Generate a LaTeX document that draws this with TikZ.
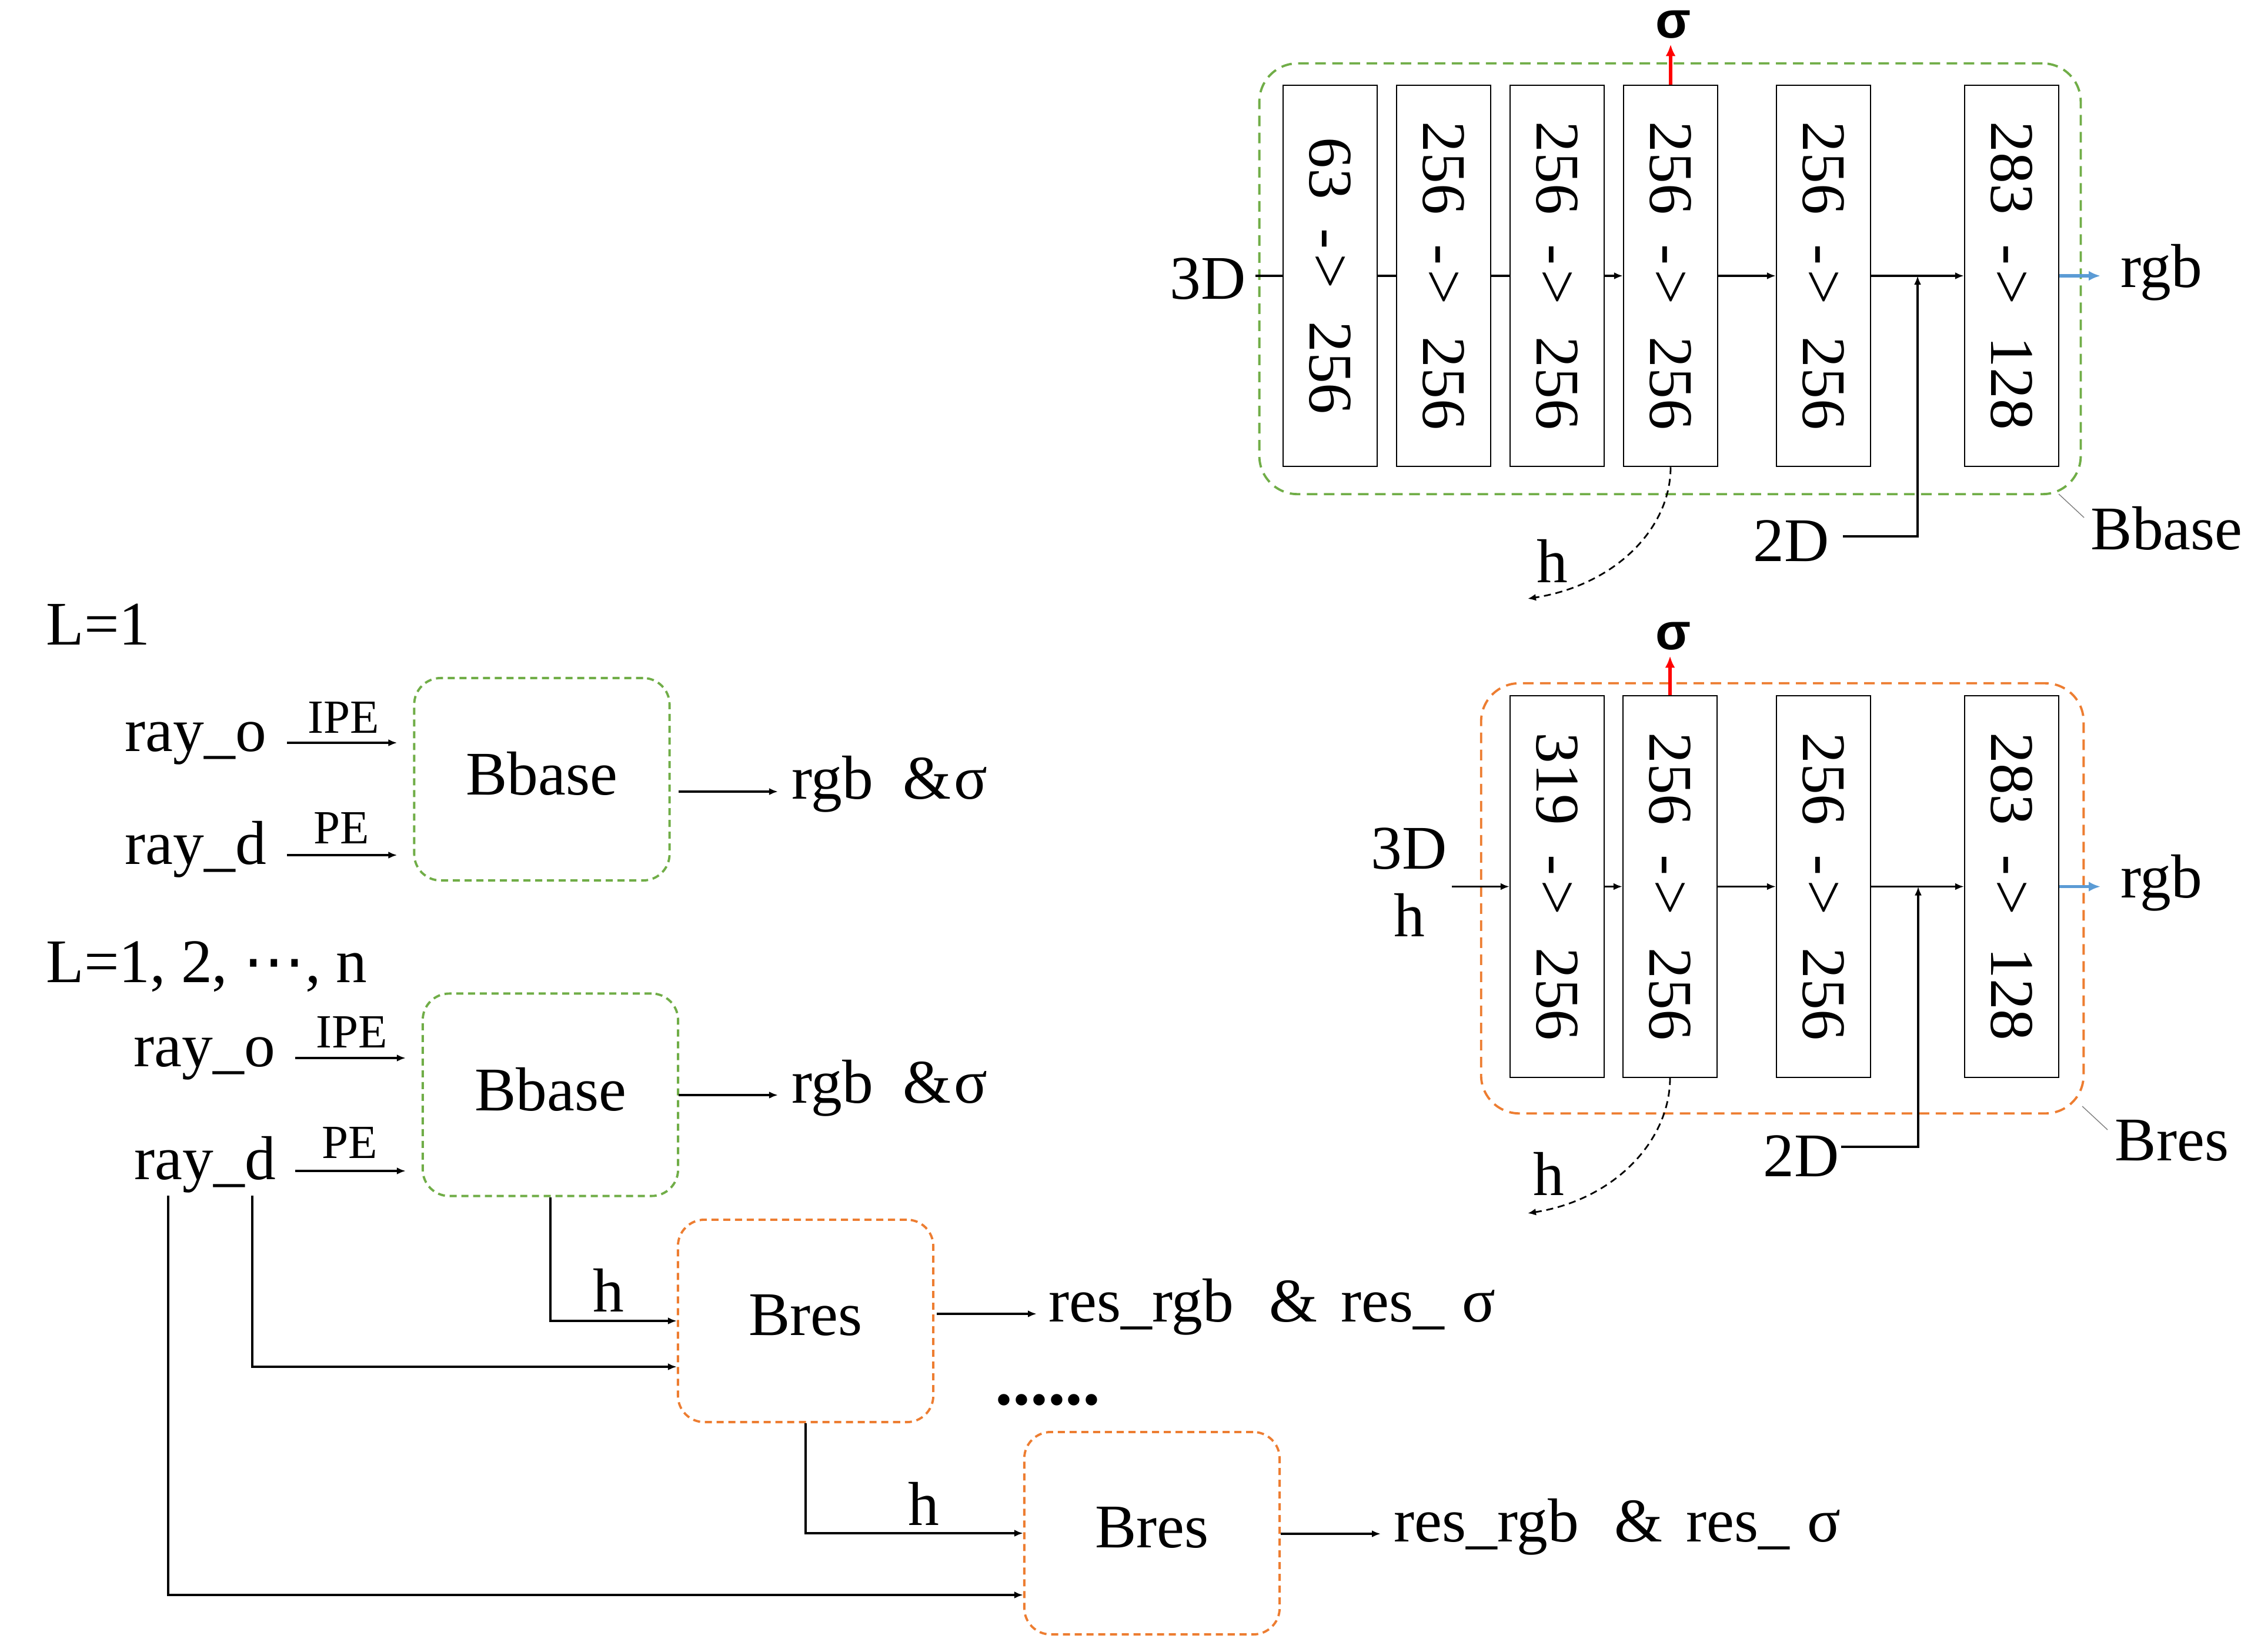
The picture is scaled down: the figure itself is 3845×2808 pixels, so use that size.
\documentclass[tikz,border=0pt]{standalone}
\usepackage{fontspec}
\setmainfont{Liberation Serif}
\newfontfamily\sansf{Liberation Sans}
\newfontfamily\djv{DejaVu Sans}
\usepackage{graphicx}
\usetikzlibrary{arrows.meta}
\definecolor{cgreen}{RGB}{112,173,71}
\definecolor{corange}{RGB}{237,125,49}
\definecolor{cblue}{RGB}{91,155,213}
\newcommand{\mainsz}{\fontsize{30}{34}\selectfont}
\newcommand{\ipesz}{\fontsize{23}{27}\selectfont}
\newcommand{\sigsz}{\sansf\bfseries\fontsize{25}{30}\selectfont}
\newcommand{\dotsz}{\fontsize{34}{40}\selectfont\bfseries}
\newcommand{\boxlab}[2]{\rotatebox{-90}{#1\hspace{0.5cm}-\hspace{0.08cm}>\hspace{0.55cm}#2}}
\newcommand{\rgbsig}{rgb\hspace{0.5cm}\&\hspace{0.05cm}σ}
\newcommand{\resout}{res\_rgb\hspace{0.6cm}\&\hspace{0.4cm}res\_\hspace{0.3cm}σ}
\begin{document}
\begin{tikzpicture}[x=0.01cm, y=-0.01cm, font=\mainsz, inner sep=0pt,
  lay/.style={draw, line width=0.6pt, minimum width=1.6cm, minimum height=6.48cm},
  pan/.style={line width=1.1pt, dash pattern=on 0.18cm off 0.11cm, rounded corners=0.65cm},
  blk/.style={line width=1.1pt, dash pattern=on 0.12cm off 0.08cm, rounded corners=0.45cm, minimum width=4.34cm, minimum height=3.44cm, text depth=0.2cm},
  con/.style={line width=0.9pt},
  arr/.style={line width=0.9pt, -{Latex[length=0.15cm,width=0.12cm]}},
  blu/.style={line width=1.5pt, cblue, -{Latex[length=0.2cm,width=0.17cm]}},
  redar/.style={line width=1.5pt, red, -{Latex[length=0.2cm,width=0.17cm]}},
  dsh/.style={line width=0.8pt, dash pattern=on 0.12cm off 0.08cm, -{Latex[length=0.14cm,width=0.12cm]}},
  leader/.style={line width=0.4pt, gray},
  sig/.style={font=\sigsz},
  lbl/.style={font=\ipesz}]
\useasboundingbox (0,0) rectangle (3845,2808);

% ---------------- top panel (Bbase) ----------------
\node[pan, draw=cgreen, minimum width=13.96cm, minimum height=7.32cm] (P1) at (2840,474) {};
\node[lay] (b1) at (2262,469) {\boxlab{63}{256}};
\node[lay] (b2) at (2455,469) {\boxlab{256}{256}};
\node[lay] (b3) at (2648,469) {\boxlab{256}{256}};
\node[lay] (b4) at (2841,469) {\boxlab{256}{256}};
\node[lay] (b5) at (3101,469) {\boxlab{256}{256}};
\node[lay] (b6) at (3421,469) {\boxlab{283}{128}};
\node[anchor=base east] (t3d) at (2119,508) {3D};
\coordinate (t3ds) at (2135,469);
\draw[con] (t3ds) -- (b1.west);
\draw[con] (b1) -- (b2);
\draw[con] (b2) -- (b3);
\draw[arr] (b3) -- (b4);
\draw[arr] (b4) -- (b5);
\draw[arr] (b5) -- (b6);
\coordinate (tj) at (3261,469);
\node[anchor=base east] (t2d) at (3111,954) {2D};
\coordinate (t2ds) at (3134,912);
\draw[arr] (t2ds) -| (tj);
\coordinate (trgbe) at (3572,469);
\draw[blu] (b6.east) -- (trgbe);
\node[anchor=west] (trgb) at (3606,463) {rgb};
\node[sig] (tsig) at (2846,42) {σ};
\draw[redar, shorten >=0.09cm] (b4.north) -- (b4.north |- tsig.south);
\draw[dsh] (b4.south) .. controls (2841,900) and (2745,995) .. (2598,1018) coordinate (the);
\node[anchor=base] (th) at (2640,990) {h};
\node[anchor=base west] (tB) at (3555,934) {Bbase};
\coordinate (tl1) at (3501,840);
\coordinate (tl2) at (3544,880);
\draw[leader] (tl1) -- (tl2);

% ---------------- second panel (Bres) ----------------
\node[pan, draw=corange, minimum width=10.24cm, minimum height=7.31cm] (P2) at (3031,1527.5) {};
\node[lay] (r1) at (2648,1507.5) {\boxlab{319}{256}};
\node[lay] (r2) at (2840,1507.5) {\boxlab{256}{256}};
\node[lay] (r3) at (3101,1507.5) {\boxlab{256}{256}};
\node[lay] (r4) at (3421,1507.5) {\boxlab{283}{128}};
\node[anchor=base] (r3d) at (2396,1477) {3D};
\node[anchor=base] (rh) at (2397,1592) {h};
\coordinate (r3ds) at (2469,1507.5);
\draw[arr] (r3ds) -- (r1.west);
\draw[arr] (r1) -- (r2);
\draw[arr] (r2) -- (r3);
\draw[arr] (r3) -- (r4);
\coordinate (rj) at (3262,1507.5);
\node[anchor=base east] (r2d) at (3128,2000) {2D};
\coordinate (r2ds) at (3131,1950);
\draw[arr] (r2ds) -| (rj);
\coordinate (rrgbe) at (3572,1507.5);
\draw[blu] (r4.east) -- (rrgbe);
\node[anchor=west] (rrgb) at (3606,1501) {rgb};
\node[sig] (rsig) at (2846,1082) {σ};
\draw[redar, shorten >=0.09cm] (r2.north) -- (r2.north |- rsig.south);
\draw[dsh] (r2.south) .. controls (2840,1940) and (2745,2040) .. (2598,2063) coordinate (rhe);
\node[anchor=base] (rhl) at (2634,2032) {h};
\node[anchor=base west] (rB) at (3596,1973) {Bres};
\coordinate (rl1) at (3541,1881);
\coordinate (rl2) at (3584,1921);
\draw[leader] (rl1) -- (rl2);

% ---------------- left: L=1 ----------------
\node[anchor=base west] (L1) at (78,1096) {L=1};
\node[anchor=base west] (ro1) at (212,1277) {ray\_o};
\node[anchor=base west] (rd1) at (212,1469) {ray\_d};
\node[blk, draw=cgreen] (bb1) at (921.5,1325) {Bbase};
\coordinate (ipe1s) at (488,1263);
\draw[arr, shorten >=0.27cm] (ipe1s) -- (bb1.west |- ipe1s);
\node[anchor=base, lbl] (ipe1) at (584,1246) {IPE};
\coordinate (pe1s) at (488,1454);
\draw[arr, shorten >=0.27cm] (pe1s) -- (bb1.west |- pe1s);
\node[anchor=base, lbl] (pe1) at (581,1434) {PE};
\node[anchor=base west] (o1) at (1346,1358) {\rgbsig};
\coordinate (o1s) at (1154,1346);
\draw[arr, shorten >=0.23cm] (o1s) -- (o1.west |- o1s);

% ---------------- left: L=1,2,...,n ----------------
\node[anchor=base west] (L2) at (78,1670) {L=1, 2, {\djv ⋯}, n};
\node[anchor=base west] (ro2) at (227,1813) {ray\_o};
\node[anchor=base west] (rd2) at (228,2005) {ray\_d};
\node[blk, draw=cgreen] (bb2) at (936,1861.5) {Bbase};
\coordinate (ipe2s) at (502,1799);
\draw[arr, shorten >=0.27cm] (ipe2s) -- (bb2.west |- ipe2s);
\node[anchor=base, lbl] (ipe2) at (598,1781) {IPE};
\coordinate (pe2s) at (502,1991);
\draw[arr, shorten >=0.27cm] (pe2s) -- (bb2.west |- pe2s);
\node[anchor=base, lbl] (pe2) at (595,1969) {PE};
\node[anchor=base west] (o2) at (1346,1875) {\rgbsig};
\coordinate (o2s) at (1154,1862);
\draw[arr, shorten >=0.23cm] (o2s) -- (o2.west |- o2s);

\node[blk, draw=corange] (bs1) at (1370,2246) {Bres};
\node[blk, draw=corange] (bs2) at (1959,2607) {Bres};
\draw[arr] (bb2.south) |- (bs1.west);
\node[anchor=base] (h1) at (1035,2230) {h};
\coordinate (rdi) at (429,2033);
\coordinate (yd) at (0,2324);
\draw[arr] (rdi) |- (bs1.west |- yd);
\draw[arr] (bs1.south) |- (bs2.west);
\node[anchor=base] (h2) at (1571,2593) {h};
\coordinate (rdo) at (286,2033);
\coordinate (ye) at (0,2712);
\draw[arr] (rdo) |- (bs2.west |- ye);

\node[anchor=base west] (res1) at (1783,2247) {\resout};
\coordinate (res1s) at (1593,2234);
\draw[arr, shorten >=0.2cm] (res1s) -- (res1.west |- res1s);
\node[anchor=base west] (res2) at (2370,2621) {\resout};
\coordinate (res2s) at (2178,2608);
\draw[arr, shorten >=0.22cm] (res2s) -- (res2.west |- res2s);
\node[font=\dotsz] (dots) at (1782,2380) {......};
\end{tikzpicture}
\end{document}
